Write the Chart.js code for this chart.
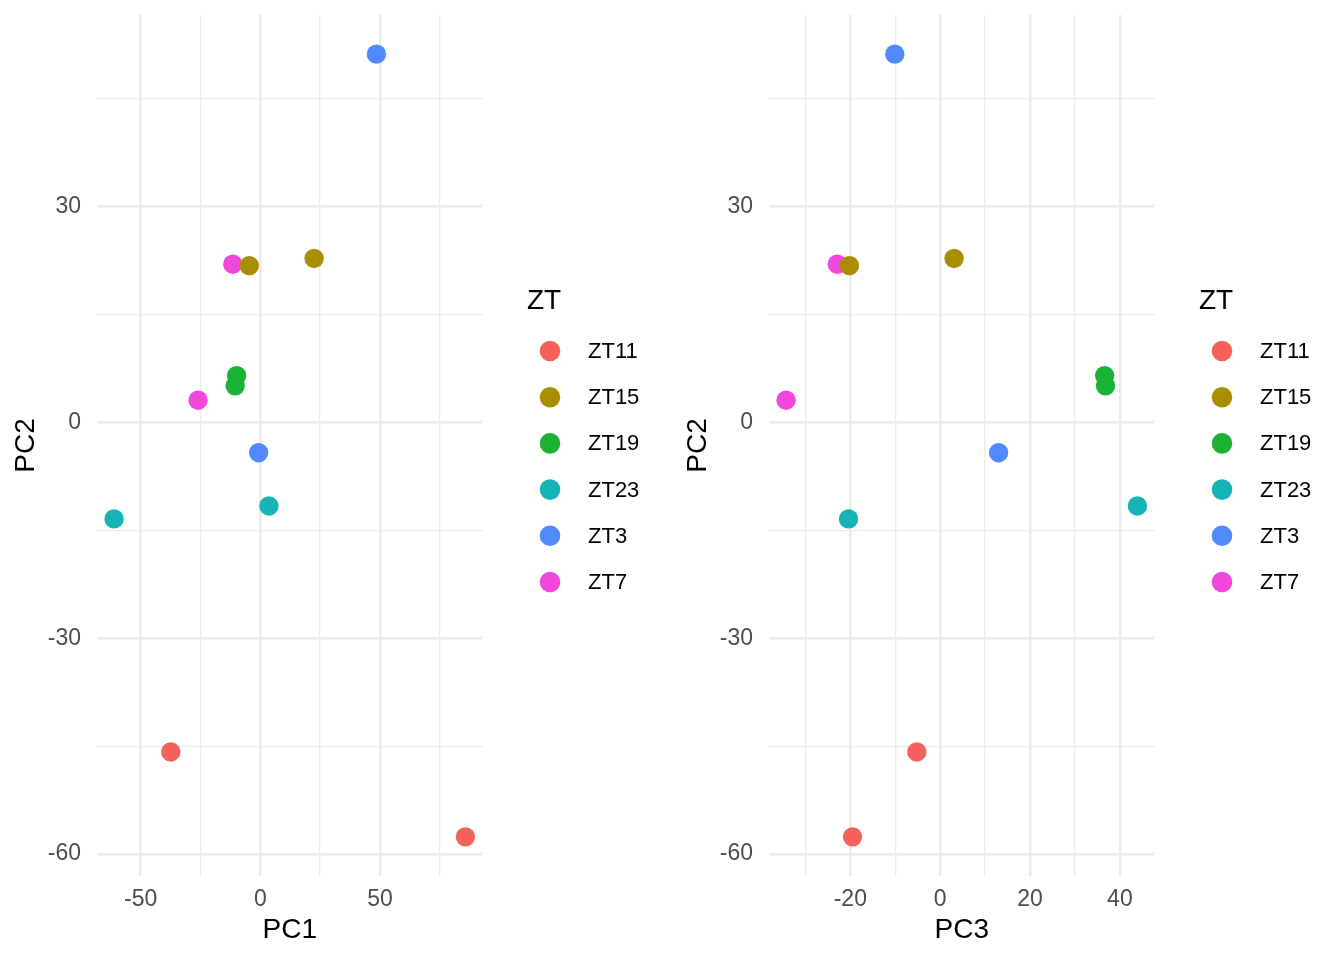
<!DOCTYPE html>
<html>
<head>
<meta charset="utf-8">
<script src="https://cdn.jsdelivr.net/npm/chart.js@4.4.1/dist/chart.umd.min.js"></script>
<style>
  html, body { margin: 0; padding: 0; background: #fff; }
  .wrap { display: flex; width: 1344px; height: 960px; }
  .panel { position: relative; width: 672px; height: 960px; }
</style>
</head>
<body>
<div class="wrap">
  <div class="panel"><canvas id="pc1Chart"></canvas></div>
  <div class="panel"><canvas id="pc3Chart"></canvas></div>
</div>
<script>
// one entry per sample
const sampleZT = ["ZT11", "ZT11", "ZT15", "ZT15", "ZT19", "ZT19", "ZT23", "ZT23", "ZT3", "ZT3", "ZT7", "ZT7"];
const pc1 = [-37.4, 85.7, -4.6, 22.5, -9.9, -10.5, -61.1, 3.6, 48.5, -0.7, -11.5, -26.0];
const pc2 = [-45.8, -57.6, 21.8, 22.8, 6.5, 5.1, -13.4, -11.6, 51.2, -4.2, 22.0, 3.1];
const pc3 = [-5.2, -19.5, -20.2, 3.1, 36.6, 36.8, -20.4, 43.9, -10.1, 13.0, -22.9, -34.3];

const ztLevels = ["ZT11", "ZT15", "ZT19", "ZT23", "ZT3", "ZT7"];
const ztColors = ["#F5625D", "#A98F00", "#1AB234", "#17B4B7", "#5389FF", "#F047DD"];

// grid positions and which of them carry a label
const pc1Ticks = [-50, -25, 0, 25, 50, 75];
const pc1Labels = [-50, 0, 50];
const pc2Ticks = [-60, -45, -30, -15, 0, 15, 30, 45];
const pc2Labels = [-60, -30, 0, 30];
const pc3Ticks = [-30, -20, -10, 0, 10, 20, 30, 40];
const pc3Labels = [-20, 0, 20, 40];

const FONT = "'Liberation Sans', Arial, sans-serif";

function expand(vals) {
  const lo = Math.min(...vals), hi = Math.max(...vals);
  const pad = (hi - lo) * 0.05;
  return { min: lo - pad, max: hi + pad };
}

function buildDatasets(xs, ys) {
  return ztLevels.map((zt, i) => ({
    label: zt,
    data: sampleZT
      .map((s, k) => (s === zt ? { x: xs[k], y: ys[k] } : null))
      .filter(p => p),
    backgroundColor: ztColors[i],
    pointRadius: 9.7,
    pointBorderWidth: 0,
    pointHoverRadius: 9.7,
  }));
}

const ztLegend = {
  id: "ztLegend",
  afterDraw(chart) {
    const ctx = chart.ctx;
    const x0 = chart.chartArea.right;
    const y0 = chart.chartArea.top;
    ctx.save();
    ctx.textBaseline = "middle";
    ctx.textAlign = "left";
    ctx.fillStyle = "#000";
    ctx.font = "28px " + FONT;
    ctx.fillText("ZT", x0 + 44, y0 + 286);
    ctx.font = "22px " + FONT;
    chart.data.datasets.forEach((ds, i) => {
      const y = y0 + 336 + i * 46.2;
      ctx.beginPath();
      ctx.arc(x0 + 67, y, 10.3, 0, Math.PI * 2);
      ctx.fillStyle = ds.backgroundColor;
      ctx.fill();
      ctx.fillStyle = "#000";
      ctx.fillText(ds.label, x0 + 105, y + 1);
    });
    ctx.restore();
  },
};

function axis(title, range, ticks, labels, isY) {
  return {
    type: "linear",
    min: range.min,
    max: range.max,
    afterBuildTicks: (scale) => {
      scale.ticks = ticks.map(v => ({ value: v }));
    },
    afterFit: (scale) => {
      // no extra room for half tick labels at the ends
      scale.paddingTop = 0;
      scale.paddingBottom = 0;
      scale.paddingLeft = 0;
      scale.paddingRight = 0;
      if (isY) scale.width = 96.5;
      else scale.height = 84;
    },
    border: { display: false },
    grid: {
      color: "#EBEBEB",
      drawTicks: false,
      lineWidth: (c) => (labels.includes(c.tick.value) ? 2.6 : 1.3),
    },
    ticks: {
      autoSkip: false,
      maxRotation: 0,
      padding: isY ? 15.5 : 10,
      color: "#4D4D4D",
      font: { family: FONT, size: 23 },
      callback: (v) => (labels.includes(v) ? String(v) : ""),
    },
    title: {
      display: true,
      text: title,
      color: "#000",
      font: { family: FONT, size: 28 },
      padding: isY ? { top: 9, bottom: 0 } : { top: 0, bottom: 13 },
    },
  };
}

function makeChart(id, xs, xTitle, xTicks, xLabels) {
  new Chart(document.getElementById(id).getContext("2d"), {
    type: "scatter",
    data: { datasets: buildDatasets(xs, pc2) },
    options: {
      responsive: true,
      maintainAspectRatio: false,
      animation: false,
      events: [],
      layout: { padding: { top: 15, right: 189, bottom: 0, left: 0 } },
      plugins: {
        legend: { display: false },
        tooltip: { enabled: false },
      },
      scales: {
        x: axis(xTitle, expand(xs), xTicks, xLabels, false),
        y: axis("PC2", expand(pc2), pc2Ticks, pc2Labels, true),
      },
    },
    plugins: [ztLegend],
  });
}

makeChart("pc1Chart", pc1, "PC1", pc1Ticks, pc1Labels);
makeChart("pc3Chart", pc3, "PC3", pc3Ticks, pc3Labels);
</script>
</body>
</html>
